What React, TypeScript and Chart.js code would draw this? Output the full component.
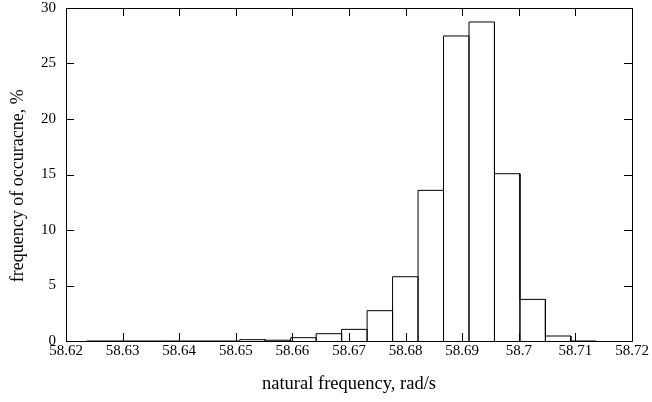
import React, { useEffect, useRef } from "react";
import { Chart, registerables } from "chart.js";

Chart.register(...registerables);

// Histogram bins (centre of each bin, rad/s) and bin width
const binCenters = [
  58.62595, 58.63045, 58.63495, 58.63945, 58.64395, 58.64845, 58.65295,
  58.65745, 58.66195, 58.66645, 58.67095, 58.67545, 58.67995, 58.68445,
  58.68895, 58.69345, 58.69795, 58.70245, 58.70695, 58.71145,
];
const binWidth = 0.0045;
// Frequency of occurrence, %
const frequency = [
  0, 0, 0, 0, 0, 0, 0.12, 0.07, 0.3, 0.66, 1.05, 2.73, 5.79, 13.57, 27.48,
  28.74, 15.07, 3.75, 0.45, 0,
];
const xTicks = [58.62, 58.63, 58.64, 58.65, 58.66, 58.67, 58.68, 58.69, 58.7, 58.71, 58.72];
const xTickLabels = ["58.62", "58.63", "58.64", "58.65", "58.66", "58.67", "58.68", "58.69", "58.7", "58.71", "58.72"];
const yTicks = [0, 5, 10, 15, 20, 25, 30];

const FONT = "'Liberation Serif', 'DejaVu Serif', serif";

export default function App() {
  const ref = useRef<HTMLCanvasElement | null>(null);
  useEffect(() => {
    if (!ref.current) return;
    // outline of every box: up the left edge, across the top, down the right edge
    const outline: { x: number; y: number }[] = [];
    binCenters.forEach((c, i) => {
      const a = c - binWidth / 2;
      const b = c + binWidth / 2;
      const h = frequency[i];
      outline.push({ x: a, y: 0 }, { x: a, y: h }, { x: b, y: h }, { x: b, y: 0 });
    });

    const frame = {
      id: "frame",
      afterDraw(chart: any) {
        const { ctx, chartArea: ca } = chart;
        const xs = chart.scales.x;
        const ys = chart.scales.y;
        ctx.save();
        ctx.strokeStyle = "#000";
        ctx.lineWidth = 1;
        ctx.beginPath();
        ctx.rect(Math.round(ca.left) + 0.5, Math.round(ca.top) + 0.5, Math.round(ca.right - ca.left), Math.round(ca.bottom - ca.top));
        const L = 8;
        xTicks.forEach((t) => {
          const px = Math.round(xs.getPixelForValue(t)) + 0.5;
          ctx.moveTo(px, ca.bottom);
          ctx.lineTo(px, ca.bottom - L);
          ctx.moveTo(px, ca.top);
          ctx.lineTo(px, ca.top + L);
        });
        yTicks.forEach((t) => {
          const py = Math.round(ys.getPixelForValue(t)) + 0.5;
          ctx.moveTo(ca.left, py);
          ctx.lineTo(ca.left + L, py);
          ctx.moveTo(ca.right, py);
          ctx.lineTo(ca.right - L, py);
        });
        ctx.stroke();
        ctx.restore();
      },
    };

    const chart = new Chart(ref.current, {
      type: "line",
      data: {
        datasets: [
          {
            label: "frequency",
            data: outline,
            borderColor: "#000",
            borderWidth: 1,
            pointRadius: 0,
            tension: 0,
            fill: false,
          },
        ],
      },
      options: {
        animation: false,
        responsive: false,
        maintainAspectRatio: false,
        layout: { padding: { top: 8, right: 20, left: 0, bottom: 0 } },
        plugins: { legend: { display: false }, tooltip: { enabled: false } },
        scales: {
          x: {
            type: "linear",
            min: 58.62,
            max: 58.72,
            grid: { display: false, drawTicks: false },
            border: { display: false },
            afterBuildTicks: (s: any) => {
              s.ticks = xTicks.map((v) => ({ value: v }));
            },
            afterFit: (s: any) => {
              s.height = 61;
            },
            ticks: {
              color: "#000",
              padding: 1,
              maxRotation: 0,
              autoSkip: false,
              font: { family: FONT, size: 15 },
              callback: (v: any, i: number) => xTickLabels[i],
            },
            title: {
              display: true,
              text: "natural frequency, rad/s",
              color: "#000",
              font: { family: FONT, size: 18.5 },
              padding: { top: 0, bottom: 7 },
            },
          },
          y: {
            min: 0,
            max: 30,
            grid: { display: false, drawTicks: false },
            border: { display: false },
            afterBuildTicks: (s: any) => {
              s.ticks = yTicks.map((v) => ({ value: v }));
            },
            afterFit: (s: any) => {
              s.width = 66;
              s.paddingTop = 0;
              s.paddingBottom = 0;
            },
            ticks: {
              color: "#000",
              padding: 10,
              font: { family: FONT, size: 15 },
            },
            title: {
              display: true,
              text: "frequency of occuracne, %\u00a0\u00a0\u00a0\u00a0\u00a0",
              color: "#000",
              font: { family: FONT, size: 18 },
              padding: { top: 7, bottom: 0 },
            },
          },
        },
      },
      plugins: [frame],
    });
    return () => chart.destroy();
  }, []);

  return (
    <div style={{ position: "absolute", left: 0, top: 0, width: 652, height: 402, background: "#fff" }}>
      <canvas ref={ref} width={652} height={402} style={{ width: 652, height: 402, display: "block" }} />
    </div>
  );
}
